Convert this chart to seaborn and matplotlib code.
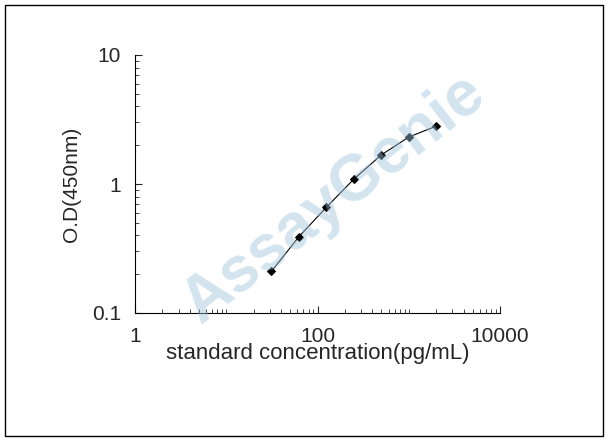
import matplotlib
matplotlib.use("Agg")
import matplotlib.pyplot as plt
import seaborn as sns
import numpy as np
from matplotlib.ticker import LogLocator, FixedLocator, NullFormatter

conc = [31.25, 62.5, 125, 250, 500, 1000, 2000]
od = [0.21, 0.39, 0.66, 1.09, 1.68, 2.31, 2.81]
xticks = [1, 100, 10000]
yticks = [0.1, 1, 10]

sns.set_style("white")
plt.rcParams['font.family'] = ['Liberation Sans', 'DejaVu Sans']
fig = plt.figure(figsize=(6.08, 4.41), dpi=100)
ax = fig.add_axes([135/608, 1-313/441, (500-135)/608, (313-55)/441])
sns.lineplot(x=conc, y=od, ax=ax, color='black', lw=0.8, marker='D', markersize=4, markeredgecolor='black')
ax.set_xscale('log'); ax.set_yscale('log')
ax.set_xlim(1, 10000); ax.set_ylim(0.1, 10)
for s in ['top', 'right']:
    ax.spines[s].set_visible(False)
for s in ['left', 'bottom']:
    ax.spines[s].set_color('black'); ax.spines[s].set_linewidth(0.8)
ax.xaxis.set_major_locator(FixedLocator(xticks))
ax.set_xticklabels([str(v) for v in xticks])
ax.yaxis.set_major_locator(FixedLocator(yticks))
ax.set_yticklabels(['0.1', '1', '10'])
ax.xaxis.set_minor_locator(LogLocator(base=10, subs=np.arange(1, 10), numticks=20))
ax.yaxis.set_minor_locator(LogLocator(base=10, subs=np.arange(2, 10), numticks=20))
ax.xaxis.set_minor_formatter(NullFormatter()); ax.yaxis.set_minor_formatter(NullFormatter())
ax.tick_params(which='major', direction='in', length=5, width=0.8, labelsize=15, left=True, bottom=True, pad=10)
ax.tick_params(which='minor', direction='in', length=3, width=0.6, left=True, bottom=True)
ax.set_xlabel('standard concentration(pg/mL)', fontsize=16, labelpad=-2)
ax.set_ylabel('O.D(450nm)', fontsize=15, labelpad=8)
fig.text(0.55, 0.55, 'AssayGenie', fontsize=46, fontweight='bold', color='#9ec4dc', alpha=0.45,
         rotation=38, ha='center', va='center')
fig.add_artist(plt.Rectangle((0.008, 0.012), 0.984, 0.976, transform=fig.transFigure,
                             fill=False, edgecolor='black', lw=1))
fig.savefig('out.png', dpi=100)
